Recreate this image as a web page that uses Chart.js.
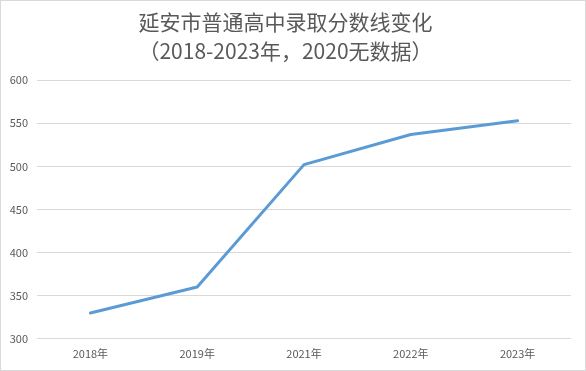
<!DOCTYPE html>
<html>
<head>
<meta charset="utf-8">
<script src="https://cdn.jsdelivr.net/npm/chart.js@4/dist/chart.umd.min.js"></script>
<style>
html,body{margin:0;padding:0;background:#fff;}
#wrap{width:586px;height:371px;position:relative;}
</style>
</head>
<body>
<div id="wrap"><canvas id="c" width="586" height="371"></canvas></div>
<script>
const titleLines = ['延安市普通高中录取分数线变化', '（2018-2023年，2020无数据）'];
const categories = ['2018年', '2019年', '2021年', '2022年', '2023年'];
const scores = [330, 360, 502, 537, 553];
const yTicks = [300, 350, 400, 450, 500, 550, 600];

const borderPlugin = {
  id: 'frame',
  beforeDraw(chart) {
    const ctx = chart.ctx;
    ctx.save();
    ctx.fillStyle = '#ffffff';
    ctx.fillRect(0, 0, chart.width, chart.height);
    ctx.strokeStyle = '#d9d9d9';
    ctx.lineWidth = 1;
    ctx.strokeRect(0.5, 0.5, chart.width - 1, chart.height - 1);
    ctx.restore();
  }
};

new Chart(document.getElementById('c'), {
  type: 'line',
  data: {
    labels: categories,
    datasets: [{
      data: scores,
      borderColor: '#5B9BD5',
      backgroundColor: '#5B9BD5',
      borderWidth: 3,
      pointRadius: 0,
      tension: 0,
      borderCapStyle: 'round',
      borderJoinStyle: 'round',
      fill: false
    }]
  },
  options: {
    responsive: false,
    animation: false,
    devicePixelRatio: 1,
    layout: { padding: { left: 0, right: 15, top: 0, bottom: 3 } },
    plugins: {
      legend: { display: false },
      tooltip: { enabled: false },
      title: {
        display: true,
        text: titleLines,
        color: '#595959',
        font: { family: '"Noto Sans CJK SC", "Noto Sans", sans-serif', size: 21, weight: 'normal', lineHeight: 1.36 },
        padding: { top: 8, bottom: 15 }
      }
    },
    scales: {
      x: {
        offset: true,
        grid: { display: false, drawTicks: false },
        border: { display: false },
        ticks: {
          color: '#595959',
          padding: 8,
          maxRotation: 0,
          font: { family: '"Noto Sans CJK SC", "Noto Sans", sans-serif', size: 11 }
        }
      },
      y: {
        min: 300,
        max: 600,
        afterFit(scale) { scale.width = 37; },
        afterBuildTicks(scale) { scale.ticks = yTicks.map(v => ({ value: v })); },
        grid: { color: '#d9d9d9', lineWidth: 1, drawTicks: false },
        border: { display: false },
        ticks: {
          stepSize: 50,
          color: '#595959',
          padding: 9,
          font: { family: '"Noto Sans CJK SC", "Noto Sans", sans-serif', size: 11 }
        }
      }
    }
  },
  plugins: [borderPlugin]
});
</script>
</body>
</html>
